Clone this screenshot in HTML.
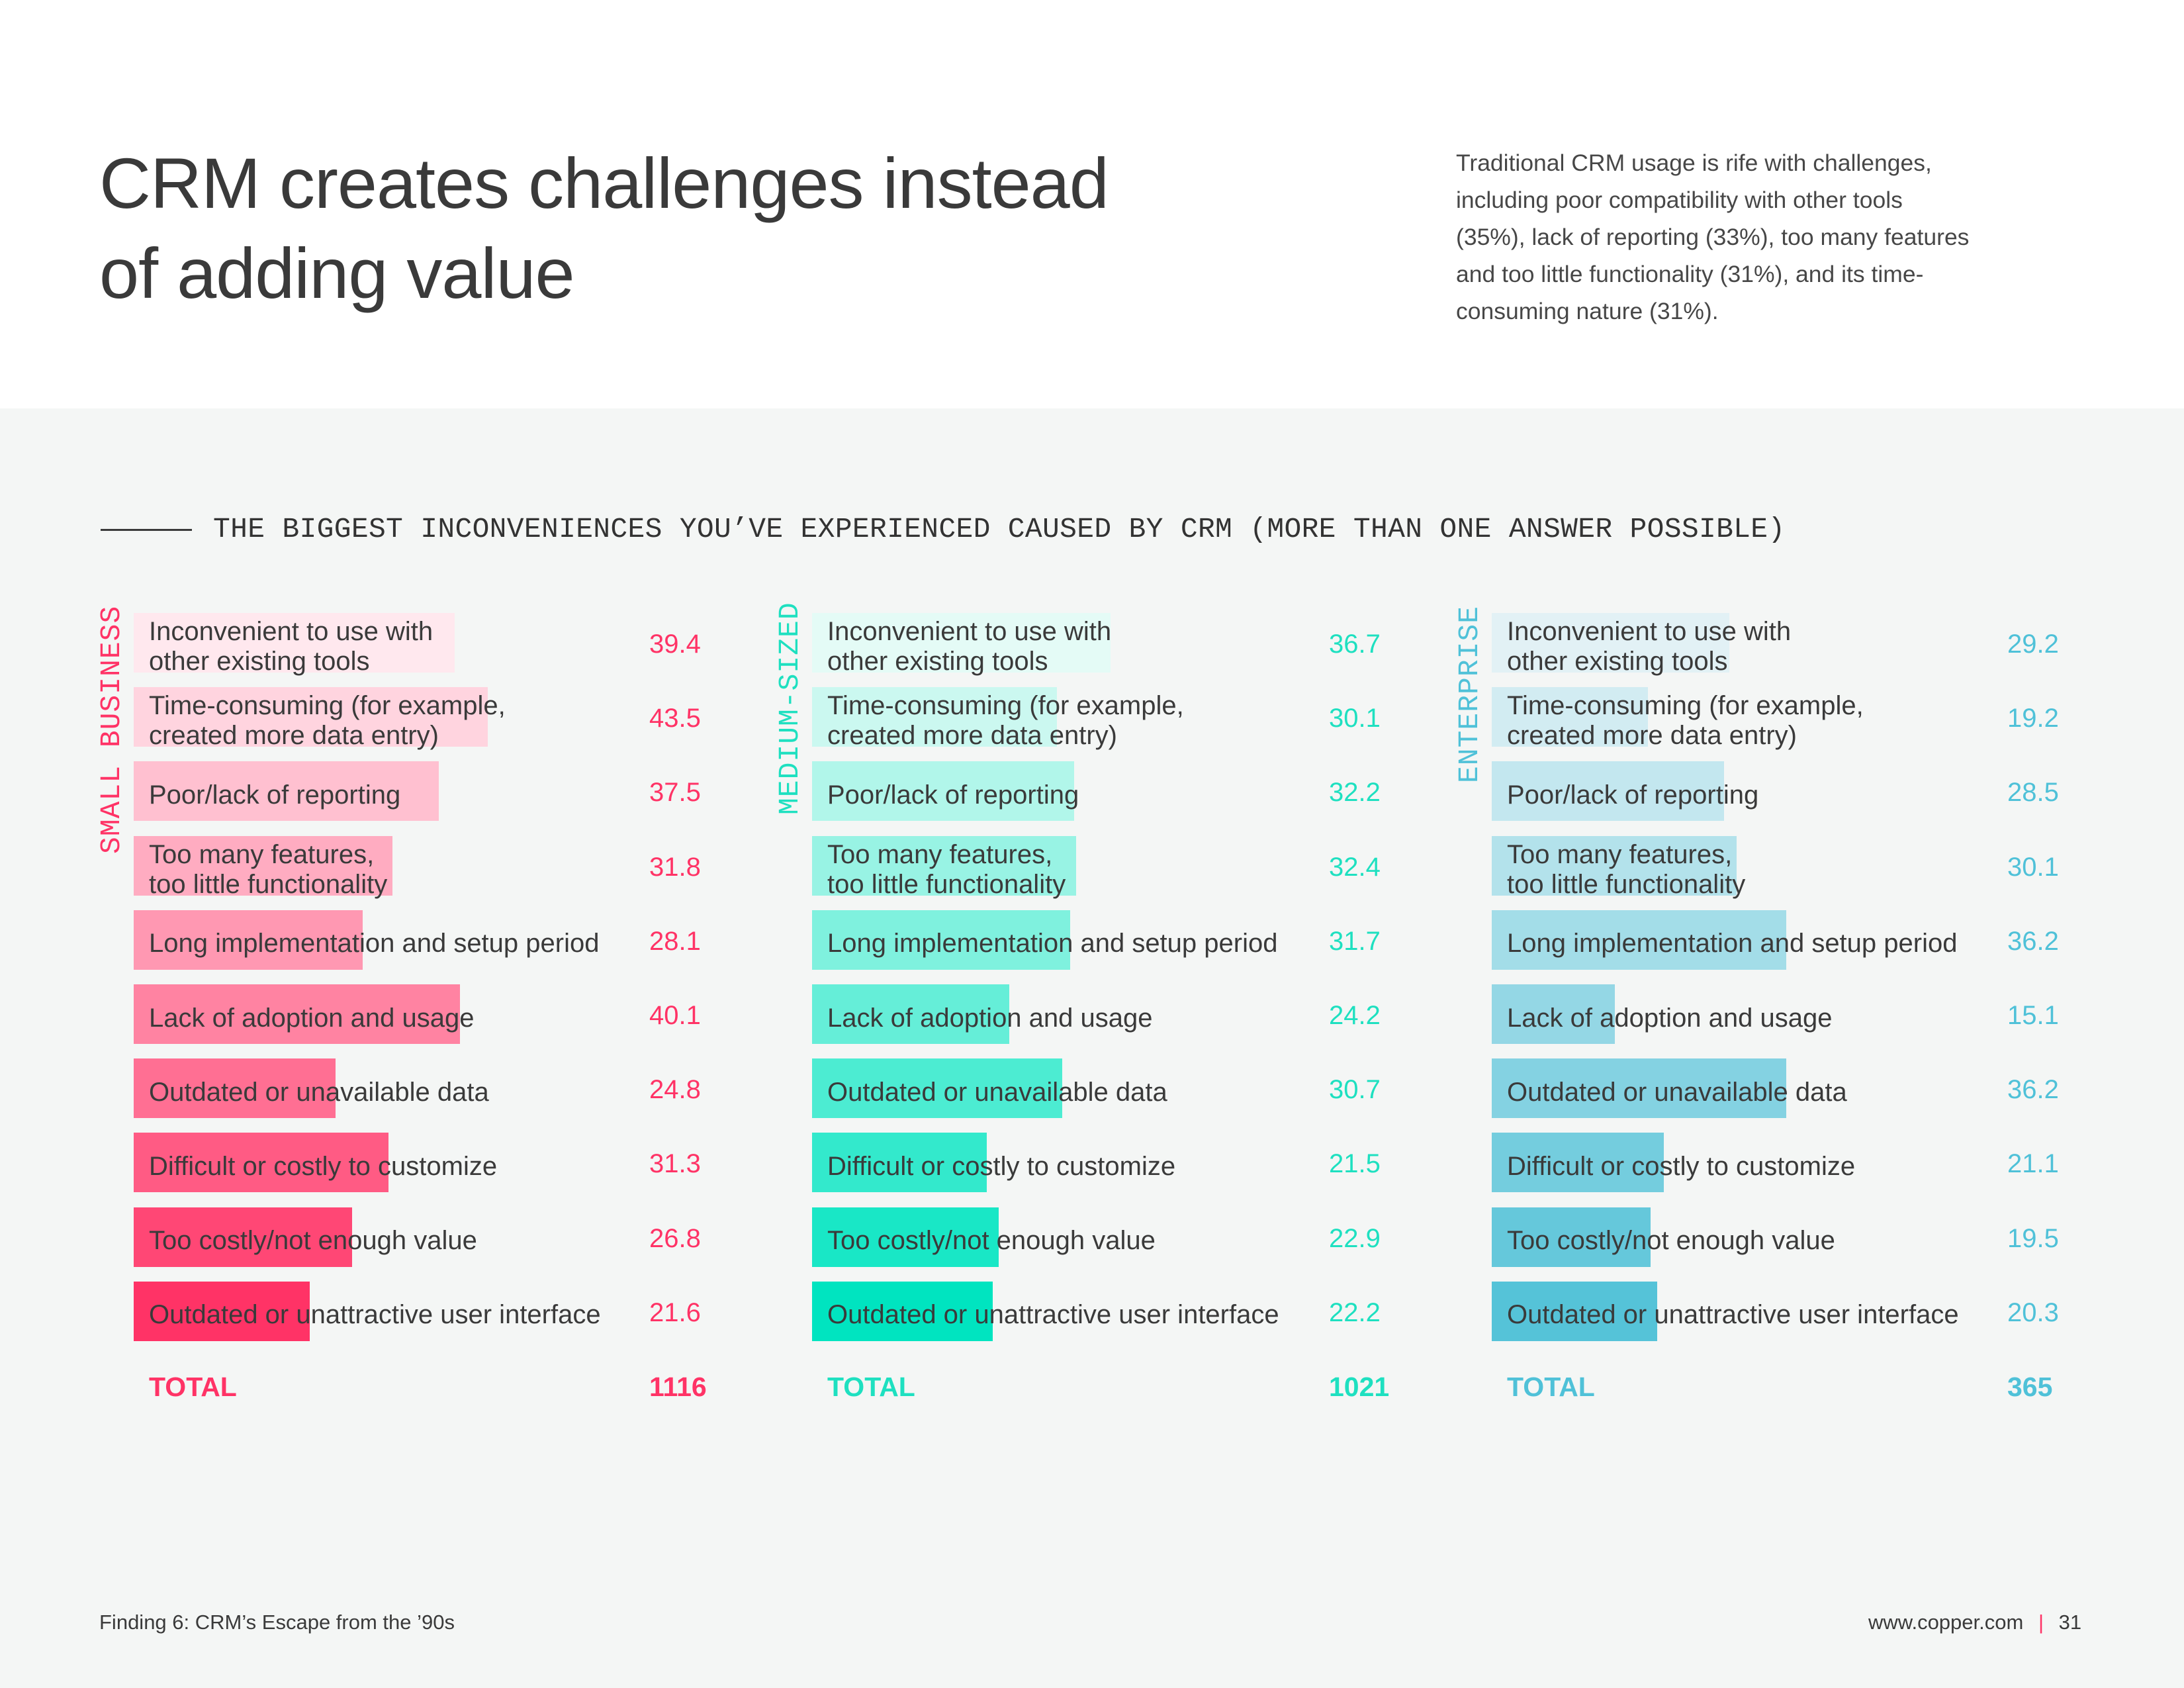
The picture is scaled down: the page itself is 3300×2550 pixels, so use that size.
<!DOCTYPE html>
<html><head><meta charset="utf-8">
<style>
*{margin:0;padding:0;box-sizing:border-box}
body{width:3300px;height:2550px;background:#fff;position:relative;overflow:hidden;font-family:"Liberation Sans",sans-serif;color:#3a3a3a}
.abs{position:absolute}
#band{left:0;top:617px;width:3300px;height:1933px;background:#f4f6f5}
#title{left:150px;top:209px;font-size:108px;line-height:136px;color:#3a3a3a;letter-spacing:-1px}
#intro{left:2200px;top:218px;font-size:35.5px;line-height:56px;color:#474747;width:1100px}
#rule{left:152px;top:799px;width:138px;height:3px;background:#3a3a3a}
#heading{left:322px;top:772px;font-family:"Liberation Mono",monospace;font-size:43px;line-height:56px;color:#333;white-space:nowrap;letter-spacing:0.3px}
.vlab{font-family:"Liberation Mono",monospace;font-size:43px;white-space:nowrap;transform-origin:0 0;transform:rotate(-90deg);letter-spacing:1px}
.bar{position:absolute;height:90px}
.lbl{position:absolute;font-size:40px;line-height:45px;color:#3a3a3a;white-space:nowrap}
.val{position:absolute;font-size:40px;line-height:45px}
.tot{position:absolute;font-size:41px;font-weight:bold;line-height:45px}
#foot-left{left:150px;top:2433px;font-size:31px;color:#3a3a3a}
#foot-right{left:2823px;top:2433px;font-size:31px;color:#3a3a3a;white-space:nowrap}
</style></head>
<body>
<div id="band" class="abs"></div>
<div id="title" class="abs">CRM creates challenges instead<br>of adding value</div>
<div id="intro" class="abs">Traditional CRM usage is rife with challenges,<br>including poor compatibility with other tools<br>(35%), lack of reporting (33%), too many features<br>and too little functionality (31%), and its time-<br>consuming nature (31%).</div>
<div id="rule" class="abs"></div>
<div id="heading" class="abs">THE BIGGEST INCONVENIENCES YOU’VE EXPERIENCED CAUSED BY CRM (MORE THAN ONE ANSWER POSSIBLE)</div>
<div id="chart" class="abs" style="left:0;top:0;width:3300px;height:2550px"></div>
<div id="foot-left" class="abs">Finding 6: CRM’s Escape from the ’90s</div>
<div id="foot-right" class="abs">www.copper.com <span style="color:#ff3366;margin:0 14px">|</span> 31</div>
<script>
const categories = ["Inconvenient to use with<br>other existing tools","Time-consuming (for example,<br>created more data entry)","Poor/lack of reporting","Too many features,<br>too little functionality","Long implementation and setup period","Lack of adoption and usage","Outdated or unavailable data","Difficult or costly to customize","Too costly/not enough value","Outdated or unattractive user interface"];
const segments = ["SMALL BUSINESS","MEDIUM-SIZED","ENTERPRISE"];
const smallValues = [39.4,43.5,37.5,31.8,28.1,40.1,24.8,31.3,26.8,21.6];
const mediumValues = [36.7,30.1,32.2,32.4,31.7,24.2,30.7,21.5,22.9,22.2];
const enterpriseValues = [29.2,19.2,28.5,30.1,36.2,15.1,36.2,21.1,19.5,20.3];
const totals = ["1116","1021","365"];

const chart = document.getElementById('chart');
const series = [smallValues, mediumValues, enterpriseValues];
const colLeft = [202, 1227, 2254];
const valX = [981, 2008, 3033];
const accent = ['#ff3366','#1ee0c0','#4fc1d8'];
const startC = [[255,232,238],[228,251,246],[226,241,245]];
const endC = [[255,51,102],[0,228,192],[85,195,216]];
const rowTop = 926, pitch = 112.2, barH = 90;
const scaleX = v => v * 12.3;
const rowY = i => rowTop + i * pitch;
const vlabY = [1290, 1231, 1183];

segments.forEach((seg, s) => {
  const v = document.createElement('div');
  v.className = 'abs vlab';
  
  
  v.style.left = (colLeft[s] - 55) + 'px';
  v.style.top = vlabY[s] + 'px';
  v.style.color = accent[s];
  v.style.lineHeight = '44px';
  v.textContent = seg;
  chart.appendChild(v);

  series[s].forEach((val, i) => {
    const t = i / 9;
    const c = startC[s].map((a, k) => Math.round(a + (endC[s][k] - a) * t));
    const b = document.createElement('div');
    b.className = 'bar';
    
    
    b.style.left = colLeft[s] + 'px';
    b.style.top = rowY(i) + 'px';
    b.style.width = scaleX(val) + 'px';
    b.style.background = 'rgb(' + c.join(',') + ')';
    chart.appendChild(b);

    const l = document.createElement('div');
    l.className = 'lbl';
    
    
    l.innerHTML = categories[i];
    const lines = categories[i].includes('<br>') ? 2 : 1;
    l.style.left = (colLeft[s] + 23) + 'px';
    l.style.top = (rowY(i) + barH / 2 - lines * 22.5 + 6) + 'px';
    chart.appendChild(l);

    const n = document.createElement('div');
    n.className = 'val';
    
    
    n.textContent = val.toFixed(1);
    n.style.left = valX[s] + 'px';
    n.style.top = (rowY(i) + barH / 2 - 20) + 'px';
    n.style.color = accent[s];
    chart.appendChild(n);
  });

  const tl = document.createElement('div');
  tl.className = 'tot';
  
  
  tl.textContent = 'TOTAL';
  tl.style.left = (colLeft[s] + 23) + 'px';
  tl.style.top = '2073px';
  tl.style.color = accent[s];
  chart.appendChild(tl);

  const tv = document.createElement('div');
  tv.className = 'tot';
  
  
  tv.textContent = totals[s];
  tv.style.left = valX[s] + 'px';
  tv.style.top = '2073px';
  tv.style.color = accent[s];
  chart.appendChild(tv);
});
</script>
</body></html>
